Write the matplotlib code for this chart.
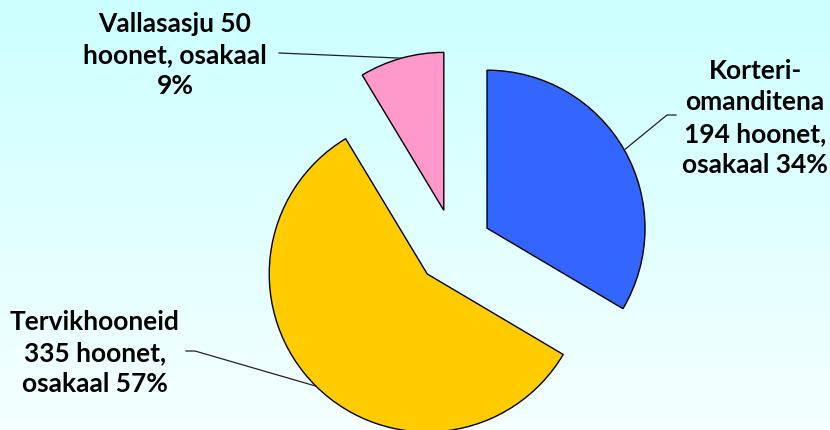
import numpy as np
import matplotlib
matplotlib.use('Agg')
import matplotlib.pyplot as plt

# ── data ────────────────────────────────────────────────────────────────────
categories = ["Korteri-\nomanditena", "Tervikhooneid", "Vallasasju"]
counts = [194, 335, 50]
shares = [34, 57, 9]
colors = ["#3366FF", "#FFCC00", "#FF99CC"]

labels = [
    "Korteri-\nomanditena\n194 hoonet,\nosakaal 34%",
    "Tervikhooneid\n335 hoonet,\nosakaal 57%",
    "Vallasasju 50\nhoonet, osakaal\n9%",
]

# ── figure (1 data unit = 1 pixel, y upwards) ───────────────────────────────
W, H = 830, 430
fig = plt.figure(figsize=(W / 100, H / 100), dpi=100)

bg = fig.add_axes([0, 0, 1, 1])
grad = np.linspace(0, 1, 256).reshape(-1, 1)
top = np.array([0.80, 1.0, 1.0])
bot = np.array([0.96, 1.0, 1.0])
img = top + (bot - top) * grad[:, :, None]
bg.imshow(img, aspect='auto', extent=[0, 1, 0, 1])
bg.axis('off')

ax = fig.add_axes([0, 0, 1, 1])
ax.patch.set_alpha(0)
cx, cy, r = 454, H - 247, 158
# pie explode offsets are in data units here (pixels)
wedges, _ = ax.pie(counts, colors=colors, startangle=90, counterclock=False,
                   center=(cx, cy), radius=r, explode=[38] * 3,
                   wedgeprops=dict(edgecolor='black', linewidth=1.0),
                   frame=True)
ax.set_xlim(0, W)
ax.set_ylim(0, H)
ax.axis('off')


def arc_point(w):
    mid = np.deg2rad((w.theta1 + w.theta2) / 2)
    x0, y0 = w.center
    return x0 + w.r * np.cos(mid), y0 + w.r * np.sin(mid)


font = dict(family=['Lato', 'DejaVu Sans'], fontweight='bold', fontsize=19,
            color='black', ha='center', va='center', linespacing=1.37)

# labels
ax.text(755, H - 118, labels[0], **font)
ax.text(95, H - 353, labels[1], **font)
ax.text(175, H - 55, labels[2], **font)

# leader lines
lw = dict(color='#222222', linewidth=0.9)
bx, by = arc_point(wedges[0])
ax.plot([676, 667, bx], [H - 115, H - 115, by], **lw)
yx, yy = arc_point(wedges[1])
ax.plot([186, 195, yx], [H - 351, H - 351, yy], **lw)
px, py = arc_point(wedges[2])
ax.plot([279, px], [H - 53, py], **lw)

fig.savefig("out.png", dpi=100)
